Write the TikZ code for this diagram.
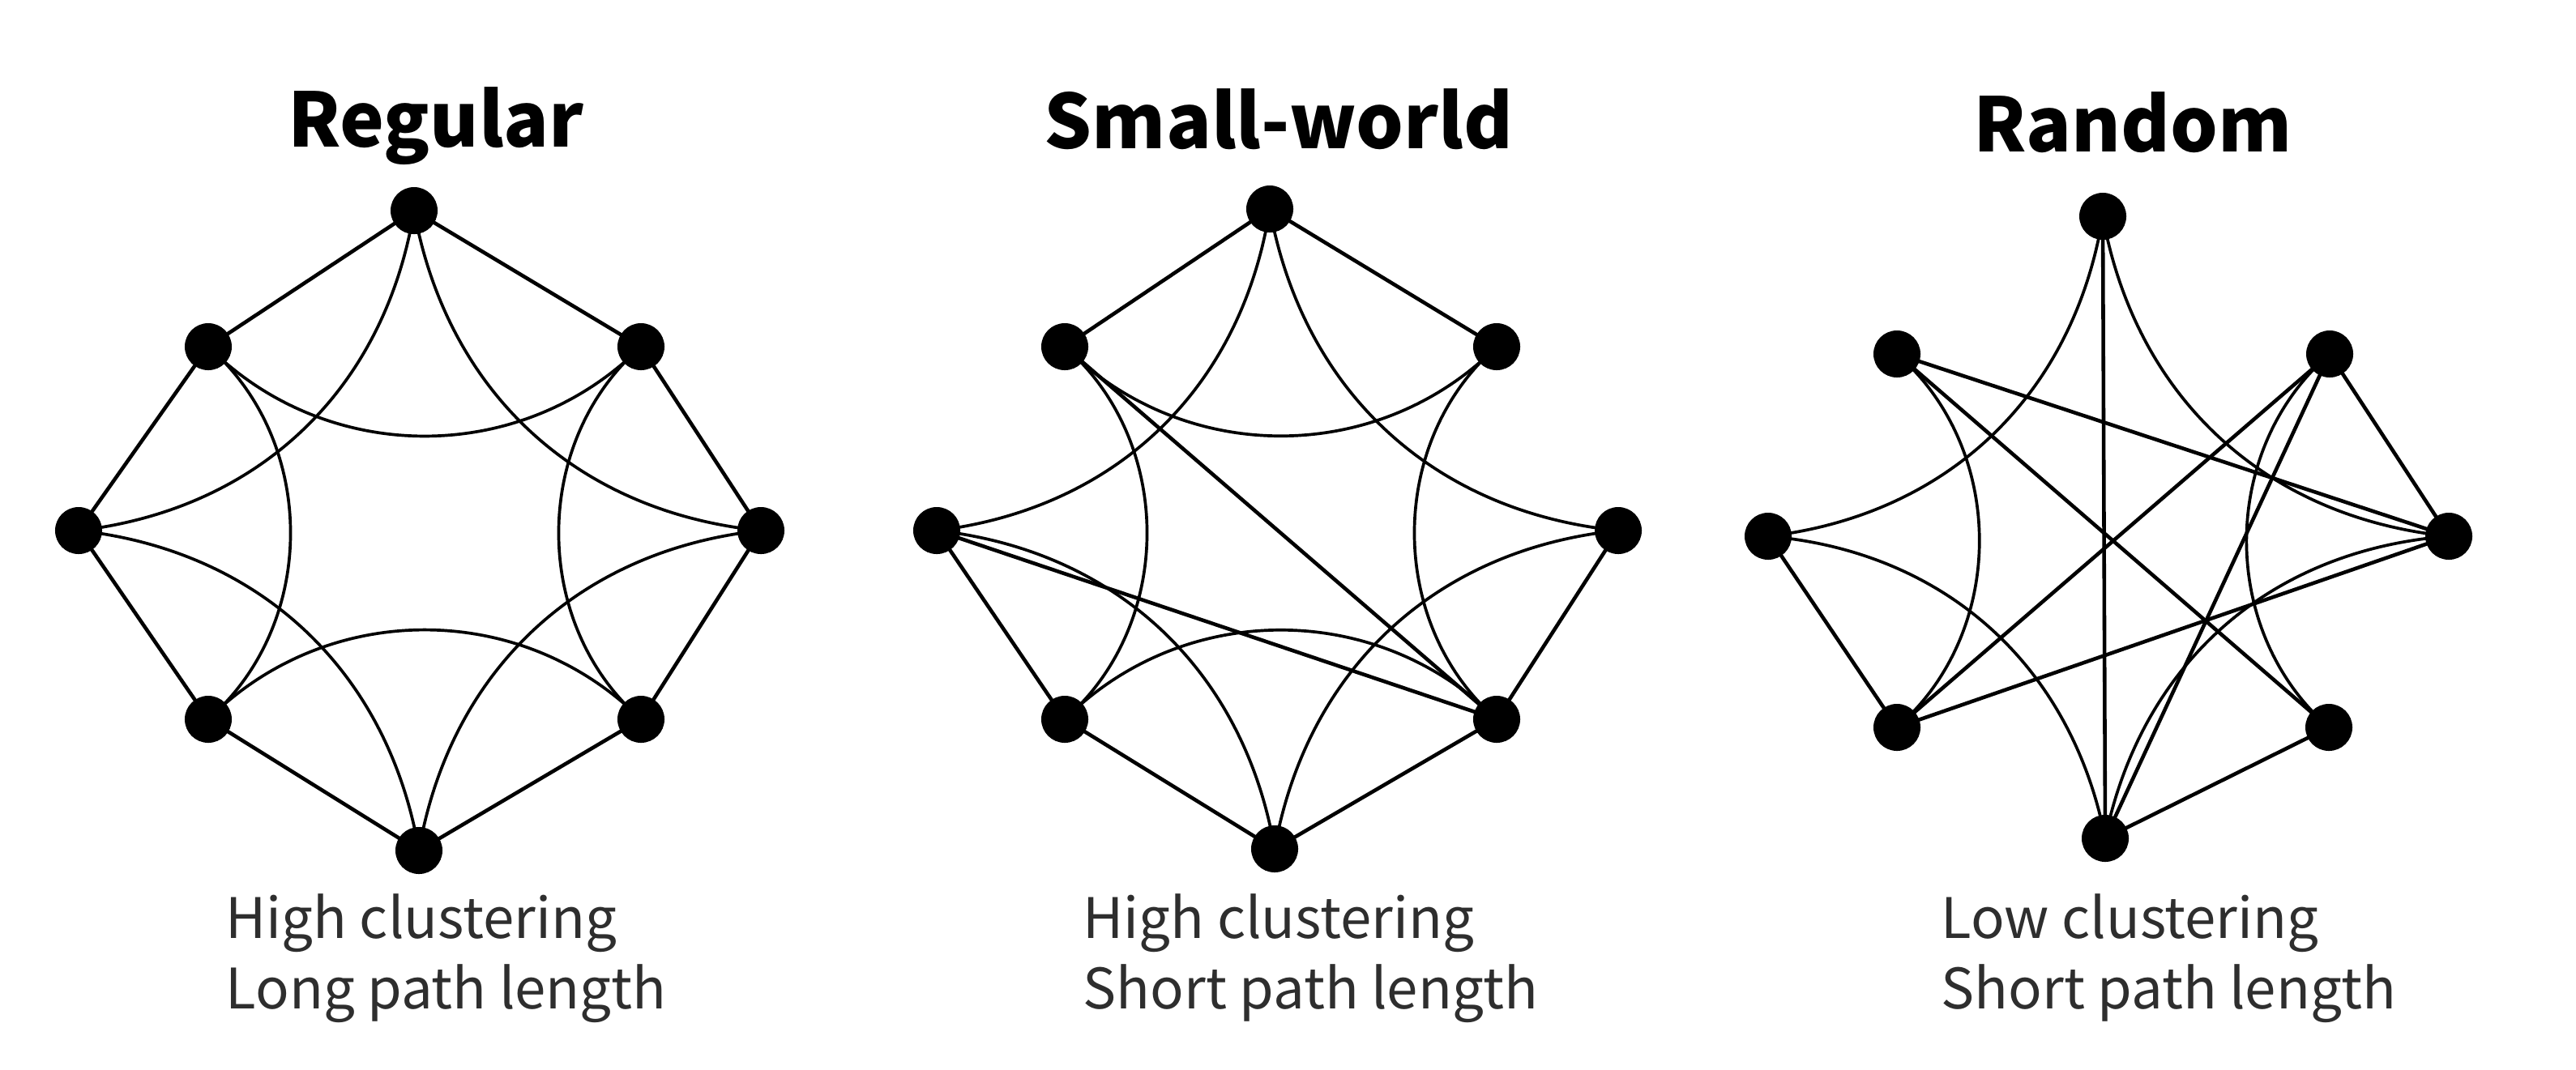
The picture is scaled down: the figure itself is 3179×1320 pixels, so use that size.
\documentclass[tikz,border=0pt]{standalone}
\usepackage{fontspec}
\newfontfamily\cjkfont{Noto Sans CJK JP}
\usetikzlibrary{backgrounds}
\begin{document}
\begin{tikzpicture}[x=0.01cm,y=-0.01cm,
  vtx/.style={circle,fill=black,inner sep=0pt,minimum size=0.58cm},
  sedge/.style={line width=1.3pt},
  cedge/.style={line width=1.05pt},
  ttl/.style={font=\cjkfont\bfseries\fontsize{26.3}{31}\selectfont,anchor=base,inner sep=0pt},
  sub/.style={font=\cjkfont\fontsize{19.6}{24}\selectfont,anchor=base west,text=black!82,inner sep=0pt},
  dg/.style={bend left=37},
  hz/.style={bend left=45},
  vt/.style={bend left=49}]
\useasboundingbox (0,0) rectangle (3179,1320);

% ---------- Regular ----------
\node[vtx] (r0) at (511,260) {};
\node[vtx] (r1) at (257,428) {};
\node[vtx] (r2) at (97,655) {};
\node[vtx] (r3) at (257,888) {};
\node[vtx] (r4) at (517,1050) {};
\node[vtx] (r5) at (791,888) {};
\node[vtx] (r6) at (939,655) {};
\node[vtx] (r7) at (791,428) {};

% ---------- Small-world ----------
\node[vtx] (s0) at (1567,258) {};
\node[vtx] (s1) at (1314,428) {};
\node[vtx] (s2) at (1156,655) {};
\node[vtx] (s3) at (1314,888) {};
\node[vtx] (s4) at (1573,1048) {};
\node[vtx] (s5) at (1847,888) {};
\node[vtx] (s6) at (1997,655) {};
\node[vtx] (s7) at (1847,428) {};

% ---------- Random ----------
\node[vtx] (q0) at (2595,267) {};
\node[vtx] (q1) at (2341,437) {};
\node[vtx] (q2) at (2182,662) {};
\node[vtx] (q3) at (2341,898) {};
\node[vtx] (q4) at (2598,1035) {};
\node[vtx] (q5) at (2874,898) {};
\node[vtx] (q6) at (3022,662) {};
\node[vtx] (q7) at (2875,437) {};

\begin{scope}[on background layer]
% Regular: straight ring
\draw[sedge] (r0.center) -- (r1.center) -- (r2.center) -- (r3.center) -- (r4.center)
  -- (r5.center) -- (r6.center) -- (r7.center) -- (r0.center);
% Regular: curves
\draw[cedge] (r0.center) to[dg] (r2.center);
\draw[cedge] (r2.center) to[dg] (r4.center);
\draw[cedge] (r4.center) to[dg] (r6.center);
\draw[cedge] (r6.center) to[dg] (r0.center);
\draw[cedge] (r7.center) to[hz] (r1.center);
\draw[cedge] (r3.center) to[hz] (r5.center);
\draw[cedge] (r1.center) to[vt] (r3.center);
\draw[cedge] (r5.center) to[vt] (r7.center);

% Small-world: straight
\draw[sedge] (s7.center) -- (s0.center) -- (s1.center);
\draw[sedge] (s2.center) -- (s3.center) -- (s4.center) -- (s5.center) -- (s6.center);
\draw[sedge] (s1.center) -- (s5.center);
\draw[sedge] (s2.center) -- (s5.center);
% Small-world: curves
\draw[cedge] (s0.center) to[dg] (s2.center);
\draw[cedge] (s2.center) to[dg] (s4.center);
\draw[cedge] (s4.center) to[dg] (s6.center);
\draw[cedge] (s6.center) to[dg] (s0.center);
\draw[cedge] (s7.center) to[hz] (s1.center);
\draw[cedge] (s3.center) to[hz] (s5.center);
\draw[cedge] (s1.center) to[vt] (s3.center);
\draw[cedge] (s5.center) to[vt] (s7.center);

% Random: straight
\draw[sedge] (q0.center) -- (q4.center);
\draw[sedge] (q1.center) -- (q6.center);
\draw[sedge] (q1.center) -- (q5.center);
\draw[sedge] (q7.center) -- (q6.center);
\draw[sedge] (q7.center) -- (q3.center);
\draw[sedge] (q7.center) -- (q4.center);
\draw[sedge] (q6.center) -- (q3.center);
\draw[sedge] (q2.center) -- (q3.center);
\draw[sedge] (q5.center) -- (q4.center);
% Random: curves
\draw[cedge] (q0.center) to[dg] (q2.center);
\draw[cedge] (q2.center) to[dg] (q4.center);
\draw[cedge] (q4.center) to[dg] (q6.center);
\draw[cedge] (q6.center) to[dg] (q0.center);
\draw[cedge] (q1.center) to[vt] (q3.center);
\draw[cedge] (q5.center) to[vt] (q7.center);
\end{scope}

% ---------- Titles ----------
\node[ttl] (t1) at (538,181) {Regular};
\node[ttl] (t2) at (1578,183) {Small-world};
\node[ttl] (t3) at (2632,187) {Random};

% ---------- Captions ----------
\node[sub] (c1a) at (278,1158) {High clustering};
\node[sub] (c1b) at (278,1245) {Long path length};
\node[sub] (c2a) at (1336,1158) {High clustering};
\node[sub] (c2b) at (1336,1245) {Short path length};
\node[sub] (c3a) at (2395,1158) {Low clustering};
\node[sub] (c3b) at (2395,1245) {Short path length};
\end{tikzpicture}
\end{document}
